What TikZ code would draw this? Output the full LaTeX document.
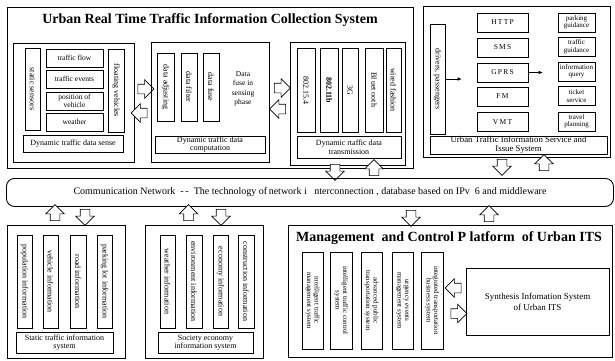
\documentclass[tikz,border=0pt]{standalone}
\usepackage{fontspec}
\setmainfont{Liberation Serif}
\usetikzlibrary{arrows.meta, shapes.arrows, positioning, calc}

\begin{document}
\begin{tikzpicture}[
  x=1pt, y=-1pt,
  frame/.style={draw, line width=0.9pt, anchor=north west, inner sep=0pt},
  cell/.style={draw, line width=0.6pt, align=center, inner sep=1pt,
               font=\fontsize{7.5}{8}\selectfont},
  vcell/.style={cell, rotate=-90, font=\fontsize{8}{8}\selectfont},
  pair/.style={vcell, inner sep=0pt, font=\fontsize{7}{7.5}\selectfont},
  caption/.style={cell, inner sep=0pt, font=\fontsize{8}{8.5}\selectfont},
  title/.style={font=\fontsize{14}{16}\selectfont\bfseries},
  blk/.style={draw, line width=0.6pt, fill=white, single arrow, inner sep=4.5pt,
              single arrow head extend=4.5pt, minimum height=16pt,
              shape border rotate=#1},
  tip/.style={-{Latex[length=4pt,width=3.5pt]}, line width=0.6pt}
]
\useasboundingbox (0,0) rectangle (615,360);

% collection system
\node[frame, minimum width=406pt, minimum height=161pt] (collect) at (7,7) {};
\node[title] (collect-t) at (210,20)
  {Urban Real Time Traffic Information Collection System};

\node[frame, line width=0.6pt, minimum width=121pt, minimum height=119pt] (sense) at (13,43) {};
\node[vcell, minimum width=82pt, minimum height=15pt] (static) at (32.5,89) {static sensors};
\node[cell, minimum width=57pt, minimum height=18pt] (flow) at (74.5,58) {traffic flow};
\node[cell, minimum width=57pt, minimum height=18pt] (events) at (74.5,79) {traffic events};
\node[cell, inner sep=0pt, minimum width=57pt, minimum height=18pt] (pos) at (74.5,101) {position of\\vehicle};
\node[cell, minimum width=57pt, minimum height=18pt] (weather) at (74.5,122) {weather};
\node[vcell, minimum width=83pt, minimum height=16pt] (floating) at (116,90.5) {floating vehicles};
\node[caption, minimum width=100pt, minimum height=17pt] (sense-t) at (73,143.5)
  {Dynamic traffic data sense};

\node[blk=0] (sc-r) at (143.5,89) {};
\node[blk=180] (sc-l) at (141.5,113) {};

\node[frame, line width=0.6pt, minimum width=118pt, minimum height=120pt] (comp) at (151,42) {};
\node[vcell, minimum width=68pt, minimum height=17pt] (adjust) at (165.5,87) {data adjusting};
\node[vcell, minimum width=68pt, minimum height=16pt] (filter) at (189,87) {data filter};
\node[vcell, minimum width=68pt, minimum height=16pt] (fuse) at (211,87) {data fuse};
\node[align=center, font=\fontsize{7.5}{9.5}\selectfont] (fuse-t) at (243,89)
  {Data\\fuse in\\sensing\\phase};
\node[caption, minimum width=110pt, minimum height=17pt] (comp-t) at (210,144.5)
  {Dynamic traffic data\\computation};

\node[blk=0] (ct-r) at (280,88) {};
\node[blk=180] (ct-l) at (280,109) {};

\node[frame, line width=0.6pt, minimum width=115pt, minimum height=123pt] (trans) at (290,42) {};
\node[vcell, minimum width=84pt, minimum height=18pt] (zig) at (306,90) {802.15.4};
\node[vcell, minimum width=84pt, minimum height=18pt, font=\fontsize{8}{8}\selectfont\bfseries] (wifi) at (329,90) {802.11b};
\node[vcell, minimum width=84pt, minimum height=16pt] (threeg) at (350,90) {3G};
\node[vcell, minimum width=84pt, minimum height=18pt] (blue) at (374,90) {Bl\,uet\,oot\,h};
\node[vcell, minimum width=84pt, minimum height=15pt] (wired) at (393.5,90) {wired fashion};
\node[caption, minimum width=104pt, minimum height=22pt] (trans-t) at (349,147)
  {Dynamic rtaffic data\\transmission};

\node[blk=270] (tn-d) at (335,170) {};
\node[blk=90] (tn-u) at (374,170) {};

% service and issue system
\node[frame, minimum width=187pt, minimum height=151pt] (service) at (423,6) {};
\node[vcell, minimum width=110pt, minimum height=15pt] (drivers) at (437.5,79) {drivers, passengers};
\node[cell, minimum width=51pt, minimum height=19pt] (http) at (502.5,22.5) {H\,T\,T\,P};
\node[cell, minimum width=51pt, minimum height=19pt] (sms) at (502.5,47.5) {S\,M\,S};
\node[cell, minimum width=51pt, minimum height=19pt] (gprs) at (502.5,72.5) {G\,P\,R\,S};
\node[cell, minimum width=51pt, minimum height=19pt] (fm) at (502.5,96.5) {F\,M};
\node[cell, minimum width=51pt, minimum height=19pt] (vmt) at (502.5,122) {V\,M\,T};
\node[cell, inner sep=0pt, font=\fontsize{7}{7.5}\selectfont, minimum width=37pt, minimum height=19pt] (parking) at (576.5,22.5) {parking\\guidance};
\node[cell, inner sep=0pt, font=\fontsize{7}{7.5}\selectfont, minimum width=37pt, minimum height=19pt] (guide) at (576.5,47) {traffic\\guidance};
\node[cell, inner sep=0pt, font=\fontsize{7}{7.5}\selectfont, minimum width=37pt, minimum height=19pt] (query) at (576.5,71.5) {information\\query};
\node[cell, inner sep=0pt, font=\fontsize{7}{7.5}\selectfont, minimum width=37pt, minimum height=19pt] (ticket) at (576.5,96) {ticket\\service};
\node[cell, inner sep=0pt, font=\fontsize{7}{7.5}\selectfont, minimum width=37pt, minimum height=19pt] (travel) at (576.5,121.5) {travel\\planning};
\node[caption, font=\fontsize{8.8}{9.3}\selectfont, minimum width=177pt, minimum height=18pt] (service-t) at (518.5,145)
  {Urban Traffic Information Service and\\Issue System};

\draw[tip, shorten >=15pt] (drivers.north) -- (drivers.north -| http.west);
\draw[tip, shorten >=15pt] (gprs.east) -- (gprs.east -| parking.west);

\node[blk=270] (sn-d) at (502,165) {};
\node[blk=90] (sn-u) at (544,165) {};

% communication network
\node[frame, rounded corners=8pt, minimum width=607pt, minimum height=28pt] (net) at (6,178) {};
\node[font=\fontsize{10}{11}\selectfont] (net-t) at (310,192)
  {Communication Network\ \ -\,-\ \ The technology of\,network i\ \ \ nterconnection , database based on IPv\ \ 6 and\ middleware};

\node[blk=90] (st-u) at (55,215) {};
\node[blk=270] (st-d) at (85,215) {};
\node[blk=90] (so-u) at (188.5,215) {};
\node[blk=270] (so-d) at (221,215) {};
\node[blk=270] (mg-d) at (411,216) {};
\node[blk=90] (mg-u) at (489,216) {};

% static traffic information
\node[frame, minimum width=118pt, minimum height=133pt] (static-sys) at (7,225) {};
\node[vcell, minimum width=93pt, minimum height=15pt] (popul) at (24.5,281.5) {population information};
\node[vcell, minimum width=93pt, minimum height=15pt] (vehic) at (50.5,281.5) {vehicle information};
\node[vcell, minimum width=93pt, minimum height=16pt] (road) at (78,281.5) {road information};
\node[vcell, minimum width=93pt, minimum height=15pt] (lot) at (104.5,281.5) {parking lot information};
\node[caption, minimum width=97pt, minimum height=21pt] (static-t) at (64.5,342.5)
  {Static traffic information\\system};

% society economy information
\node[frame, minimum width=118pt, minimum height=133pt] (society) at (145,225) {};
\node[vcell, minimum width=93pt, minimum height=15pt] (wthr) at (167.5,281.5) {weather information};
\node[vcell, minimum width=93pt, minimum height=16pt] (envir) at (194,281.5) {environment information};
\node[vcell, minimum width=93pt, minimum height=15pt] (econ) at (220.5,281.5) {economy information};
\node[vcell, minimum width=93pt, minimum height=16pt] (constr) at (246,281.5) {construction information};
\node[caption, minimum width=95pt, minimum height=21pt] (society-t) at (205.5,342.5)
  {Society economy\\information system};

% management and control platform
\node[frame, minimum width=324pt, minimum height=132pt] (manage) at (288,225) {};
\node[title] (manage-t) at (449,238)
  {Management\ \ and Control P\ latform\ \ of Urban ITS};
\node[pair, minimum width=97pt, minimum height=21pt] (itms) at (312.5,300.5) {intelligent traffic\\management system};
\node[pair, minimum width=97pt, minimum height=22pt] (itcs) at (341,300.5) {intelligent traffic control\\system};
\node[pair, minimum width=97pt, minimum height=21pt] (apts) at (371.5,300.5) {advanced public\\transportation system};
\node[pair, minimum width=97pt, minimum height=21pt] (uems) at (402.5,300.5) {urgency events\\management system};
\node[pair, minimum width=97pt, minimum height=22pt] (itbs) at (432,300.5) {integrated transportation\\business system};
\node[cell, font=\fontsize{9}{11}\selectfont, minimum width=143pt, minimum height=67pt] (synth) at (537.5,301.5)
  {Synthesis Infomation System\\of Urban ITS};

\node[blk=180] (sy-l) at (455.5,288) {};
\node[blk=0] (sy-r) at (456.5,313.5) {};
\end{tikzpicture}
\end{document}
